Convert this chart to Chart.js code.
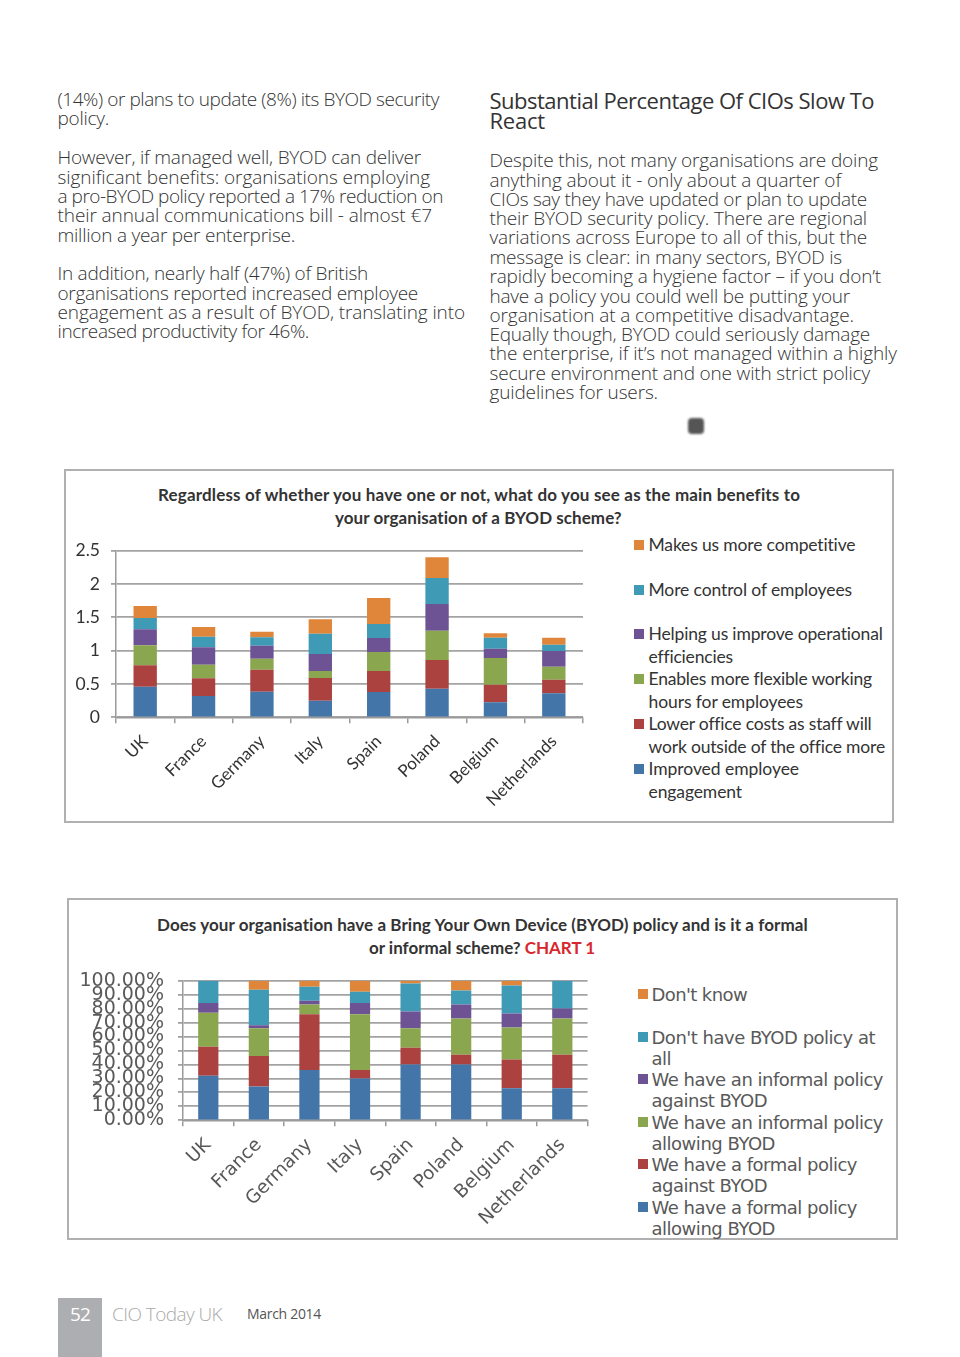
<!DOCTYPE html>
<html><head><meta charset="utf-8">
<script src="https://cdn.jsdelivr.net/npm/chart.js@4"></script>
<style>
html,body{margin:0;padding:0;background:#fff}
#page{position:relative;width:960px;height:1357px;overflow:hidden}
.t{position:absolute;white-space:nowrap;line-height:1;transform:translateY(-50%)}
.body{font:300 19px "Open Sans";color:#333}
.head{font:400 22px "Open Sans";color:#333}
.ct{font:700 17px Lato;color:#333}
.l1{font:400 17.5px Lato;color:#333}
.l2{font:400 18px "DejaVu Sans";color:#595959}
.n52{font:400 19px "Open Sans";color:#fff}
.brand{font:300 19px "Open Sans";color:#aaa}
.date{font:400 14px "Open Sans";color:#555}
.box{position:absolute;border:2px solid #b0b0b0;box-sizing:border-box}
.sq{position:absolute;width:10px;height:10px}
canvas{position:absolute}
</style></head><body><div id="page">
<div class="box" style="left:64px;top:469px;width:830px;height:354px"></div>
<div class="box" style="left:67px;top:898px;width:831px;height:342px"></div>
<div style="position:absolute;left:58px;top:1298px;width:44px;height:59px;background:#adaeb2"></div>
<div style="position:absolute;left:688px;top:418px;width:16px;height:16px;border-radius:4px;background:#555;filter:blur(1px)"></div>
<div style="position:absolute;left:65px;top:530px;width:530px;height:290px"><canvas id="c1"></canvas></div>
<div style="position:absolute;left:70px;top:960px;width:530px;height:275px"><canvas id="c2"></canvas></div>
</div>
<script>
const categories = ["UK","France","Germany","Italy","Spain","Poland","Belgium","Netherlands"];
const colours = ["#4375a9","#ab4240","#8aa64e","#6d5294","#3f9ab5","#e0863a"];

const benefitNames = ["Improved employee engagement","Lower office costs as staff will work outside of the office more","Enables more flexible working hours for employees","Helping us improve operational efficiencies","More control of employees","Makes us more competitive"];
const benefitEngagement = [.46,.32,.385,.25,.38,.43,.225,.36];
const benefitCosts = [.32,.265,.33,.34,.315,.43,.265,.205];
const benefitFlexible = [.30,.205,.165,.105,.285,.44,.40,.195];
const benefitEfficiency = [.24,.26,.195,.255,.21,.40,.14,.235];
const benefitControl = [.17,.16,.125,.305,.21,.39,.165,.095];
const benefitCompetitive = [.18,.145,.085,.215,.39,.31,.065,.105];

const policyNames = ["We have a formal policy allowing BYOD","We have a formal policy against BYOD","We have an informal policy allowing BYOD","We have an informal policy against BYOD","Don't have BYOD policy at all","Don't know"];
const policyFormalAllow = [32,24.3,36,30,40,40,23,23];
const policyFormalAgainst = [20.7,21.7,40,6,12,7,20.5,24];
const policyInformalAllow = [24.3,20,7,40,14,26,23,26];
const policyInformalAgainst = [7,2,2.7,8,12,10,10,7];
const policyNone = [16,25.5,10,8,20,10,20,20];
const policyDontKnow = [0,6.5,4.3,8,2,7,3.5,0];

const page = document.getElementById('page');
function line(cls,x,y,text,right,html){
  const d=document.createElement('div');d.className='t '+cls;d.style.left=x+'px';d.style.top=y+'px';
  if(html)d.innerHTML=html;else d.textContent=text;
  page.appendChild(d);
  if(right){const w=d.getBoundingClientRect().width,n=d.textContent.length;
    d.style.letterSpacing=((right-x-w)/n).toFixed(3)+'px';}
}
const bodyLeft=[[98.5,"(14%) or plans to update (8%) its BYOD security",439],[117.5,"policy.",109],
[156.5,"However, if managed well, BYOD can deliver",421],[176.5,"significant benefits: organisations employing",430],
[195.5,"a pro-BYOD policy reported a 17% reduction on",443],[214.5,"their annual communications bill - almost €7",432],
[234.5,"million a year per enterprise.",295],[272.5,"In addition, nearly half (47%) of British",368],
[292.5,"organisations reported increased employee",418],[311.5,"engagement as a result of BYOD, translating into",465],
[331,"increased productivity for 46%.",309]];
const bodyRight=[[160,"Despite this, not many organisations are doing",878],[179.5,"anything about it - only about a quarter of",841],
[198.5,"CIOs say they have updated or plan to update",867],[217.5,"their BYOD security policy. There are regional",867],
[237,"variations across Europe to all of this, but the",867],[256.5,"message is clear: in many sectors, BYOD is",842],
[275.5,"rapidly becoming a hygiene factor – if you don’t",881],[295.5,"have a policy you could well be putting your",850],
[314.5,"organisation at a competitive disadvantage.",854],[333.5,"Equally though, BYOD could seriously damage",870],
[352.5,"the enterprise, if it’s not managed within a highly",897],[372.5,"secure environment and one with strict policy",870],
[391.5,"guidelines for users.",658]];
bodyLeft.forEach(l=>line('body',57.5,l[0],l[1],l[2]));
bodyRight.forEach(l=>line('body',489.5,l[0],l[1],l[2]));
line('head',489.5,100,"Substantial Percentage Of CIOs Slow To",874);
line('head',489.5,120,"React",545);
line('ct',158,493.5,"Regardless of whether you have one or not, what do you see as the main benefits to",800);
line('ct',335,516.5,"your organisation of a BYOD scheme?",622);
line('ct',157,923.5,"Does your organisation have a Bring Your Own Device (BYOD) policy and is it a formal",808);
line('ct',369,946.5,"",595,'or informal scheme? <span style="color:#d8262c">CHART 1</span>');
line('n52',70,1314,"52",90);
line('brand',112,1314,"CIO Today UK",222);
line('date',247,1313,"March 2014",321);

function legend(cls,sqx,tx,rows){rows.forEach(r=>{
  if(r[2]!=null){const s=document.createElement('div');s.className='sq';s.style.cssText=`left:${sqx}px;top:${r[0]-5}px;background:${colours[r[2]]}`;page.appendChild(s);}
  line(cls,tx,r[0]-(cls==='l1'?1:0.5),r[1],r[3]);});}
legend('l1',634,648.5,[[545,"Makes us more competitive",5,856],[590,"More control of employees",4,852],
[634,"Helping us improve operational",3,883],[657,"efficiencies",null,732],[679,"Enables more flexible working",2,872],[702,"hours for employees",null,803],
[724,"Lower office costs as staff will",1,870],[747,"work outside of the office more",null,884],[769,"Improved employee",0,799],[792,"engagement",null,742]]);
legend('l2',638,651.5,[[994,"Don't know",5,747],[1037,"Don't have BYOD policy at",4,875],[1058,"all",null,671],
[1079,"We have an informal policy",3,883],[1100,"against BYOD",null,767],[1122,"We have an informal policy",2,883],[1143,"allowing BYOD",null,775],
[1164,"We have a formal policy",1,857],[1185,"against BYOD",null,767],[1207,"We have a formal policy",0,857],[1228,"allowing BYOD",null,775]]);

function build(id,series,names,opts){
  new Chart(document.getElementById(id),{type:'bar',
    data:{labels:categories,datasets:series.map((s,i)=>({label:names[i],data:s,backgroundColor:colours[i],barPercentage:opts.bar,categoryPercentage:1}))},
    options:{responsive:true,maintainAspectRatio:false,animation:false,
      layout:{padding:{top:opts.top,right:opts.right,left:0,bottom:0}},
      plugins:{legend:{display:false},tooltip:{enabled:false}},
      scales:{
        x:{stacked:true,offset:true,
          grid:{drawOnChartArea:false,drawTicks:true,tickLength:6,color:'#9a9a9a',lineWidth:1.5,offset:true},
          border:{color:'#9a9a9a',width:1.5},
          ticks:{autoSkip:false,minRotation:45,maxRotation:45,padding:opts.xpad,color:opts.col,font:opts.xfont},
          afterFit:s=>{s.height=opts.xh;s.paddingLeft=0;s.paddingRight=0;}},
        y:{stacked:true,min:0,max:opts.max,
          grid:{color:'#a3a3a3',lineWidth:1.8,tickLength:5},
          border:{color:'#9a9a9a',width:1.5},
          ticks:{autoSkip:false,stepSize:opts.step,padding:opts.ypad,color:opts.col,font:opts.yfont,callback:opts.fmt},
          afterFit:s=>{s.width=opts.yw;s.paddingTop=0;s.paddingBottom=0;}}
      }}});
}
build('c1',[benefitEngagement,benefitCosts,benefitFlexible,benefitEfficiency,benefitControl,benefitCompetitive],benefitNames,
  {bar:.4,top:20.7,right:12,xh:102.7,yw:51,max:2.5,step:.5,col:'#333',xpad:8,ypad:11,xfont:{family:'Lato',size:17},yfont:{family:'Lato',size:17.5},fmt:v=>String(v)});
build('c2',[policyFormalAllow,policyFormalAgainst,policyInformalAllow,policyInformalAgainst,policyNone,policyDontKnow],policyNames,
  {bar:.4,top:20.7,right:12.4,xh:114.7,yw:113,max:100,step:10,col:'#595959',xpad:8,ypad:14,xfont:{family:'DejaVu Sans',size:18.5},yfont:{family:'DejaVu Sans',size:19},fmt:v=>v.toFixed(2)+'%'});
</script></body></html>
